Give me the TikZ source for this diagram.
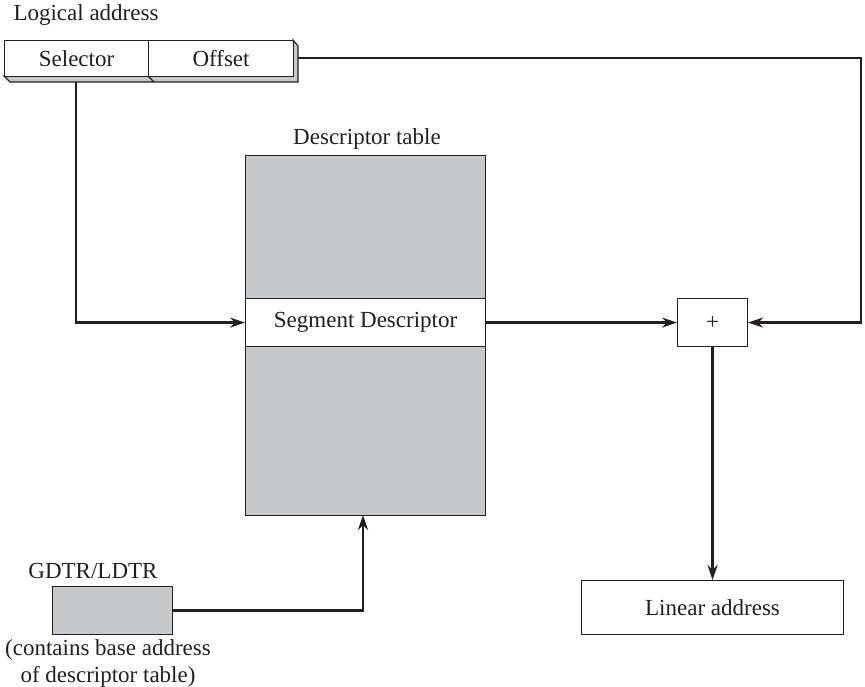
\documentclass[tikz,border=0pt]{standalone}
\usepackage{fontspec}
\setmainfont{Liberation Serif}
\usetikzlibrary{arrows.meta}
\definecolor{tblgray}{RGB}{199,200,202}
\definecolor{ink}{RGB}{35,31,32}
\begin{document}
\begin{tikzpicture}[x=1pt,y=-1pt,
  every node/.style={font=\fontsize{23}{27}\selectfont, text=ink},
  box/.style={draw=ink, line width=1.1pt, inner sep=0pt, minimum height=#1},
  conn/.style={draw=ink, line width=2.5pt},
  arr/.style={conn, -{Stealth[length=15pt,width=10pt]}},
  lbl/.style={inner sep=0pt, anchor=center}]
\useasboundingbox (0,0) rectangle (865,686);
% logical address 3D shadow
\fill[tblgray, draw=ink, line width=1.1pt] (4,76) -- (293,76) -- (293,40) -- (298,46) -- (298,82) -- (10,82) -- cycle;
\draw[ink, line width=1.1pt] (148,76) -- (154,82);
\node[box=36pt, minimum width=144pt, fill=white, anchor=north west] (sel) at (4,40) {};
\node[box=36pt, minimum width=145pt, fill=white, anchor=north west] (off) at (148,40) {};
\node[lbl] at (sel.center) {Selector};
\node[lbl] at (off.center) {Offset};
\node[lbl] (la) at (86,15) {Logical address};
% descriptor table
\node[box=360pt, minimum width=240pt, fill=tblgray, anchor=north west] (tbl) at (245,155) {};
\node[box=48pt, minimum width=240pt, fill=white, anchor=north west] (seg) at (245,298) {Segment Descriptor};
\node[lbl] (dtl) at (367,139) {Descriptor table};
% adder
\node[box=48pt, minimum width=70pt, fill=white, anchor=north west] (add) at (677,298) {+};
% linear address
\node[box=54pt, minimum width=262pt, fill=white, anchor=north west] (lin) at (581,580) {Linear address};
% GDTR
\node[box=48pt, minimum width=120pt, fill=tblgray, anchor=north west] (gdtr) at (52,586) {};
\node[lbl] at (93,571) {GDTR/LDTR};
\node[lbl, align=center] at (108,663) {(contains base address\\of descriptor table)};
% connectors
\coordinate (o1) at (298,58);
\coordinate (r1) at (861,58);
\draw[arr] (o1) -- (r1) |- (add.east);
\draw[arr] (76,82) |- (seg.west);
\draw[arr] (seg.east) -- (add.west);
\draw[arr] (add.south) -- (lin.north -| add.south);
\draw[arr] (gdtr.east) -| (363,515);
\end{tikzpicture}
\end{document}
